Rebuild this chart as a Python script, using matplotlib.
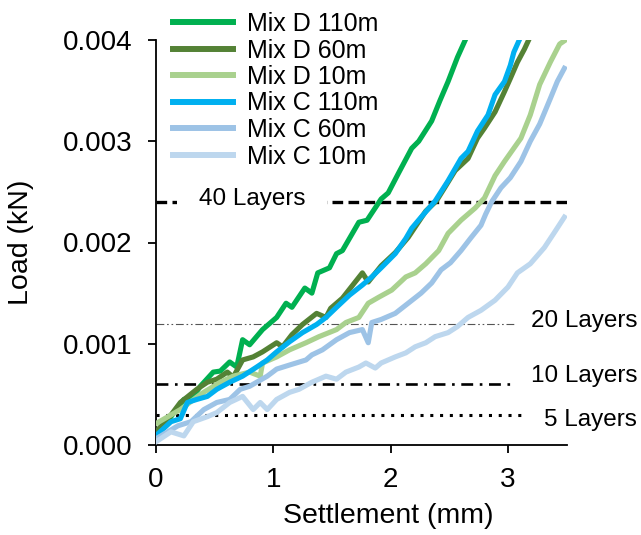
import matplotlib
matplotlib.use("Agg")
import matplotlib.pyplot as plt
from matplotlib.ticker import FormatStrFormatter

plt.rcParams['font.family'] = ['Liberation Sans', 'DejaVu Sans']

# ---- data (settlement mm, load kN) ----
series_names = ['Mix D 110m', 'Mix D 60m', 'Mix D 10m', 'Mix C 110m', 'Mix C 60m', 'Mix C 10m']
series_colors = ['#00B050', '#548235', '#A9D18E', '#00B0F0', '#9DC3E6', '#BDD7EE']

d110_x = [0.0, 0.13, 0.24, 0.32, 0.38, 0.49, 0.55, 0.63, 0.69, 0.74, 0.80, 0.91, 1.03, 1.11, 1.16,
          1.27, 1.33, 1.38, 1.48, 1.54, 1.59, 1.73, 1.80, 1.92, 1.98, 2.07, 2.18, 2.24, 2.35, 2.42,
          2.49, 2.57, 2.64]
d110_y = [0.00009, 0.00028, 0.00045, 0.00048, 0.00058, 0.00072, 0.00073, 0.00082, 0.00077, 0.00104,
          0.00099, 0.00114, 0.00126, 0.00140, 0.00136, 0.00155, 0.00150, 0.00170, 0.00175, 0.00189,
          0.00192, 0.00220, 0.00222, 0.00243, 0.00249, 0.00269, 0.00293, 0.00300, 0.00320, 0.00340,
          0.00359, 0.00383, 0.00401]

d60_x = [0.0, 0.10, 0.21, 0.35, 0.44, 0.52, 0.61, 0.66, 0.74, 0.83, 0.91, 1.03, 1.08, 1.16, 1.25,
         1.37, 1.45, 1.49, 1.59, 1.76, 1.81, 1.92, 2.04, 2.15, 2.30, 2.39, 2.46, 2.55, 2.66, 2.74,
         2.80, 2.89, 2.97, 3.02, 3.08, 3.14, 3.18]
d60_y = [0.00013, 0.00025, 0.00042, 0.00055, 0.00062, 0.00065, 0.00072, 0.00067, 0.00084, 0.00087,
         0.00092, 0.00101, 0.00097, 0.00109, 0.00119, 0.00130, 0.00126, 0.00135, 0.00145, 0.00170,
         0.00161, 0.00177, 0.00190, 0.00205, 0.00231, 0.00241, 0.00254, 0.00271, 0.00283, 0.00303,
         0.00313, 0.00329, 0.00349, 0.00362, 0.00378, 0.00391, 0.00401]

d10_x = [0.0, 0.21, 0.38, 0.55, 0.66, 0.80, 0.89, 0.91, 1.03, 1.14, 1.28, 1.39, 1.54, 1.62, 1.73,
         1.81, 1.90, 2.01, 2.13, 2.21, 2.30, 2.41, 2.49, 2.60, 2.72, 2.80, 2.89, 2.97, 3.11, 3.19,
         3.27, 3.36, 3.44, 3.49]
d10_y = [0.00021, 0.00035, 0.00050, 0.00062, 0.00068, 0.00072, 0.00068, 0.00081, 0.00087, 0.00094,
         0.00101, 0.00107, 0.00114, 0.00121, 0.00126, 0.00140, 0.00146, 0.00153, 0.00166, 0.00170,
         0.00179, 0.00192, 0.00209, 0.00222, 0.00234, 0.00244, 0.00266, 0.00280, 0.00303, 0.00326,
         0.00356, 0.00378, 0.00396, 0.00400]

c110_x = [0.0, 0.13, 0.21, 0.27, 0.35, 0.44, 0.52, 0.63, 0.74, 0.86, 0.95, 1.03, 1.14, 1.25, 1.37,
          1.45, 1.54, 1.65, 1.76, 1.84, 1.92, 2.04, 2.13, 2.18, 2.26, 2.38, 2.49, 2.60, 2.66, 2.74,
          2.83, 2.89, 2.97, 3.02, 3.05, 3.10]
c110_y = [0.00009, 0.00023, 0.00026, 0.00042, 0.00045, 0.00048, 0.00055, 0.00062, 0.00068, 0.00077,
          0.00084, 0.00092, 0.00102, 0.00111, 0.00119, 0.00126, 0.00136, 0.00148, 0.00158, 0.00166,
          0.00175, 0.00189, 0.00204, 0.00214, 0.00225, 0.00241, 0.00261, 0.00283, 0.00290, 0.00310,
          0.00326, 0.00346, 0.00359, 0.00375, 0.00388, 0.00401]

c60_x = [0.0, 0.19, 0.30, 0.41, 0.52, 0.63, 0.72, 0.80, 0.95, 1.03, 1.14, 1.28, 1.33, 1.42, 1.54,
         1.65, 1.76, 1.81, 1.84, 1.92, 2.04, 2.15, 2.26, 2.35, 2.43, 2.51, 2.60, 2.68, 2.77, 2.81,
         2.86, 2.94, 3.02, 3.11, 3.19, 3.27, 3.36, 3.42, 3.48]
c60_y = [0.00006, 0.00019, 0.00023, 0.00035, 0.00042, 0.00045, 0.00055, 0.00058, 0.00068, 0.00075,
         0.00079, 0.00084, 0.00089, 0.00094, 0.00104, 0.00111, 0.00114, 0.00101, 0.00121, 0.00124,
         0.00130, 0.00140, 0.00150, 0.00160, 0.00173, 0.00180, 0.00192, 0.00204, 0.00217, 0.00228,
         0.00240, 0.00254, 0.00264, 0.00280, 0.00300, 0.00317, 0.00342, 0.00359, 0.00372]

c10_x = [0.0, 0.13, 0.24, 0.32, 0.44, 0.52, 0.63, 0.74, 0.83, 0.89, 0.95, 1.03, 1.14, 1.22, 1.33,
         1.45, 1.54, 1.62, 1.73, 1.79, 1.87, 1.92, 2.04, 2.13, 2.21, 2.30, 2.38, 2.49, 2.57, 2.66,
         2.77, 2.89, 3.00, 3.08, 3.19, 3.31, 3.39, 3.48]
c10_y = [0.00003, 0.00013, 0.00009, 0.00023, 0.00028, 0.00032, 0.00042, 0.00048, 0.00035, 0.00042,
         0.00035, 0.00045, 0.00052, 0.00055, 0.00062, 0.00068, 0.00065, 0.00072, 0.00077, 0.00081,
         0.00076, 0.00081, 0.00087, 0.00091, 0.00097, 0.00101, 0.00107, 0.00111, 0.00117, 0.00126,
         0.00133, 0.00143, 0.00156, 0.00170, 0.00179, 0.00195, 0.00209, 0.00225]

series_x = [d110_x, d60_x, d10_x, c110_x, c60_x, c10_x]
series_y = [d110_y, d60_y, d10_y, c110_y, c60_y, c10_y]

layer_labels = ['40 Layers', '20 Layers', '10 Layers', '5 Layers']
layer_loads = [0.0024, 0.0012, 0.0006, 0.0003]
layer_ends = [3.5, 3.05, 3.05, 3.14]

x_ticks = [0, 1, 2, 3]
y_ticks = [0.000, 0.001, 0.002, 0.003, 0.004]

# ---- figure ----
fig = plt.figure(figsize=(6.41, 5.35), dpi=100)
ax = fig.add_axes([155.7 / 641, 1 - 445 / 535, (566.7 - 155.7) / 641, (445 - 40) / 535])

for xs, ys, c, n in zip(series_x, series_y, series_colors, series_names):
    ax.plot(xs, ys, color=c, lw=3.7, label=n, solid_joinstyle='round', zorder=3)

# reference lines
styles = [
    dict(color='black', lw=2.4, dashes=(3.2, 1.6)),
    dict(color='#555555', lw=0.8, dashes=(7, 2.5, 1.5, 2.5, 1.5, 2.5)),
    dict(color='black', lw=1.9, dashes=(4.5, 2.5, 1, 2.5)),
    dict(color='black', lw=2.2, dashes=(1, 2.2)),
]
for val, end, st in zip(layer_loads, layer_ends, styles):
    ax.plot([0, end], [val, val], zorder=2, **st)

# layer labels
ax.text(0.82, 0.00237, layer_labels[0], fontsize=17.5, ha='center', va='baseline', zorder=4,
        bbox=dict(boxstyle='square,pad=0.9', fc='white', ec='none'))
label_y = [0.001167, 0.000627, 0.000186]
for lab, yy in zip(layer_labels[1:], label_y):
    ax.text(4.1, yy, lab, fontsize=17.5, ha='right', va='baseline', clip_on=False)

ax.set_xlim(0, 3.5)
ax.set_ylim(0, 0.004)
ax.set_xticks(x_ticks)
ax.set_yticks(y_ticks)
ax.yaxis.set_major_formatter(FormatStrFormatter('%.3f'))
ax.spines['top'].set_visible(False)
ax.spines['right'].set_visible(False)
for s in ['left', 'bottom']:
    ax.spines[s].set_linewidth(1.3)
ax.tick_params(direction='out', length=6, width=1.3, labelsize=20)
ax.tick_params(axis='y', pad=11)
ax.tick_params(axis='x', pad=10)

ax.set_xlabel('Settlement (mm)', fontsize=20.5)
ax.set_ylabel('Load (kN)', fontsize=20.5)
ax.xaxis.set_label_coords(0.565, -0.143)
ax.yaxis.set_label_coords(-0.295, 0.5)

leg = ax.legend(loc='upper left', bbox_to_anchor=(173 / 641, 1 - 12 / 535),
                bbox_transform=fig.transFigure, frameon=False, fontsize=18,
                handlelength=2.4, handletextpad=0.56, labelspacing=0.1,
                borderpad=0, borderaxespad=0)
for h in leg.get_lines():
    h.set_linewidth(4.3)

fig.savefig('out.png', dpi=100)
